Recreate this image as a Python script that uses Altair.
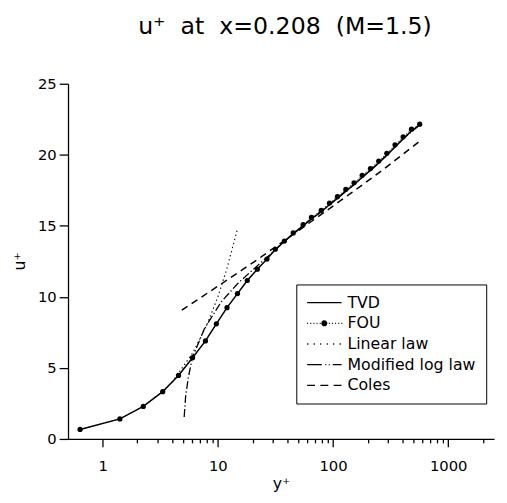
import altair as alt
import pandas as pd

# ---- data ----
fou_yplus = [0.636, 1.41, 2.25, 3.32, 4.55, 6.03, 7.8, 9.7, 12.0, 14.8, 18.0, 22.0, 26.7, 31.5,
             37.8, 45.1, 55.0, 64.9, 78.9, 93.0, 109, 129, 152, 179, 211, 249, 293, 345, 406, 479, 565]
fou_uplus = [0.67, 1.41, 2.29, 3.33, 4.47, 5.72, 6.9, 8.1, 9.24, 10.23, 11.15, 11.95, 12.66, 13.35,
             13.93, 14.5, 15.09, 15.6, 16.08, 16.6, 17.05, 17.57, 18.03, 18.56, 19.03, 19.56, 20.1,
             20.7, 21.27, 21.8, 22.15]

tvd_yplus = fou_yplus
tvd_uplus = [0.67, 1.41, 2.29, 3.33, 4.47, 5.72, 6.9, 8.1, 9.24, 10.23, 11.15, 11.95, 12.66, 13.33,
             13.9, 14.45, 15.0, 15.5, 15.98, 16.48, 16.93, 17.44, 17.9, 18.42, 18.9, 19.42, 19.96,
             20.55, 21.12, 21.67, 22.1]

lin_yplus = [4.0, 6.0, 8.0, 10.0, 12.0, 14.7]
lin_uplus = [4.0, 6.0, 8.0, 10.0, 12.0, 14.7]

mod_yplus = [5.1, 5.25, 5.54, 6.0, 7.68, 10.7, 14.8, 20.5, 28.6, 39.6, 55, 93, 152, 249, 406, 565]
mod_uplus = [1.55, 3.0, 4.33, 5.7, 7.8, 9.65, 10.92, 11.97, 13.0, 14.05, 15.0, 16.48, 17.9, 19.42,
             21.12, 22.1]

coles_yplus = [4.86, 10, 20.5, 34.7, 79, 143, 262, 565]
coles_uplus = [9.07, 10.75, 12.45, 13.75, 15.8, 17.3, 18.85, 20.95]

legend_labels = ["TVD", "FOU", "Linear law", "Modified log law", "Coles"]

x_ticks = [1, 2, 3, 4, 5, 6, 7, 8, 9, 10, 20, 30, 40, 50, 60, 70, 80, 90,
           100, 200, 300, 400, 500, 600, 700, 800, 900, 1000, 2000]
y_ticks = [0, 5, 10, 15, 20, 25]

FONT = "DejaVu Sans"

# ---- legend symbol paths: drawn in pixels (0..35 long), mapped to symbol units ----
SYM = 15.0            # nominal symbol width in px (sqrt of symbolSize)
UNIT = SYM / 2.0


def u(px):
    return -1 + px / UNIT


def seg(a, b):
    return f"M{u(a):.3f},0L{u(b):.3f},0"


def dotrow(a, b, step, ln=1.0):
    s, p = "", a
    while p <= b + 1e-9:
        s += seg(p, p + ln)
        p += step
    return s


def ring(cpx, rpx):
    c = u(cpx)
    r = rpx / UNIT
    return (f"M{c - r:.3f},0a{r:.3f},{r:.3f} 0 1,0 {2 * r:.3f},0"
            f"a{r:.3f},{r:.3f} 0 1,0 {-2 * r:.3f},0Z")


dot = ring(17.5, 2.4) + ring(17.5, 1.4) + ring(17.5, 0.5)
paths = [
    seg(0, 35),
    dotrow(0, 13, 3.2) + dot + dotrow(22, 35, 3.2),
    dotrow(0, 34, 6.6, 1.2),
    seg(0, 15) + dotrow(18.5, 23, 3.5, 1.0) + seg(26, 35),
    seg(0, 8) + seg(13.5, 21.5) + seg(27, 35),
]

x_axis = alt.Axis(
    values=x_ticks, title="y\u207a",
    labelExpr="indexof([1,10,100,1000], datum.value) >= 0 ? format(datum.value, 'd') : ''",
    tickSize={"condition": {"test": "indexof([1,10,100,1000], datum.value) >= 0", "value": 8},
              "value": 4},
    labelPadding=12, labelOverlap=False, labelFlush=False,
    titleY=50, titleBaseline="alphabetic",
)
y_axis = alt.Axis(values=y_ticks, title="u\u207a", tickSize=9, labelPadding=3,
                  titleX=-41, titleY=180)

xs = alt.Scale(type="log", domain=[0.5, 2500], nice=False)
ys = alt.Scale(domain=[0, 25], nice=False, zero=False)


def enc(chart):
    return chart.encode(
        x=alt.X("yp:Q", scale=xs, axis=x_axis),
        y=alt.Y("up:Q", scale=ys, axis=y_axis),
    )


def df(a, b):
    return pd.DataFrame({"yp": a, "up": b})


tvd = enc(alt.Chart(df(tvd_yplus, tvd_uplus)).mark_line(color="black", strokeWidth=1.5))
fou_line = enc(alt.Chart(df(fou_yplus, fou_uplus)).mark_line(color="black", strokeWidth=1,
                                                            strokeDash=[1, 2]))
fou_pts = enc(alt.Chart(df(fou_yplus, fou_uplus)).mark_point(filled=True, color="black",
                                                            size=28, opacity=1))
lin = enc(alt.Chart(df(lin_yplus, lin_uplus)).mark_line(color="black", strokeWidth=1.2,
                                                       strokeDash=[1.3, 3]))
mod = enc(alt.Chart(df(mod_yplus, mod_uplus)).mark_line(color="black", strokeWidth=1.3,
                                                       strokeDash=[8, 2.5, 1.3, 2.5]))
coles = enc(alt.Chart(df(coles_yplus, coles_uplus)).mark_line(color="black", strokeWidth=1.5,
                                                             strokeDash=[7, 5]))

legend_layer = alt.Chart(pd.DataFrame({"series": legend_labels})).transform_filter(
    "false"
).mark_point(filled=False, color="black", strokeWidth=1.3, opacity=1).encode(
    shape=alt.Shape(
        "series:N",
        scale=alt.Scale(domain=legend_labels, range=paths),
        legend=alt.Legend(
            title=None, orient="none", legendX=232, legendY=204,
            strokeColor="black", fillColor="white", padding=10,
            symbolSize=SYM * SYM, symbolStrokeColor="black", symbolStrokeWidth=1.3,
            symbolOpacity=1,
            labelFont=FONT, labelFontSize=16, labelColor="black", labelOffset=25,
            rowPadding=4, labelLimit=300,
        ),
    )
)

chart = alt.layer(coles, mod, lin, fou_line, fou_pts, tvd, legend_layer).properties(
    width=433, height=361,
    title=alt.TitleParams("u\u207a\u00a0\u00a0at\u00a0\u00a0x=0.208\u00a0\u00a0(M=1.5)",
                          font=FONT, fontSize=24, fontWeight="normal", color="black",
                          anchor="middle", offset=20, dx=4, baseline="alphabetic"),
    autosize=alt.AutoSizeParams(type="none"),
    padding={"left": 61, "top": 73, "right": 5, "bottom": 53},
).configure_view(stroke=None).configure_axis(
    domainColor="black", domainWidth=1.3, tickColor="black", tickWidth=1.3,
    labelColor="black", labelFont=FONT, labelFontSize=15,
    titleColor="black", titleFont=FONT, titleFontSize=16, titleFontWeight="normal",
    grid=False,
)

chart.save("out.html", embed_options={"renderer": "svg", "actions": False})
